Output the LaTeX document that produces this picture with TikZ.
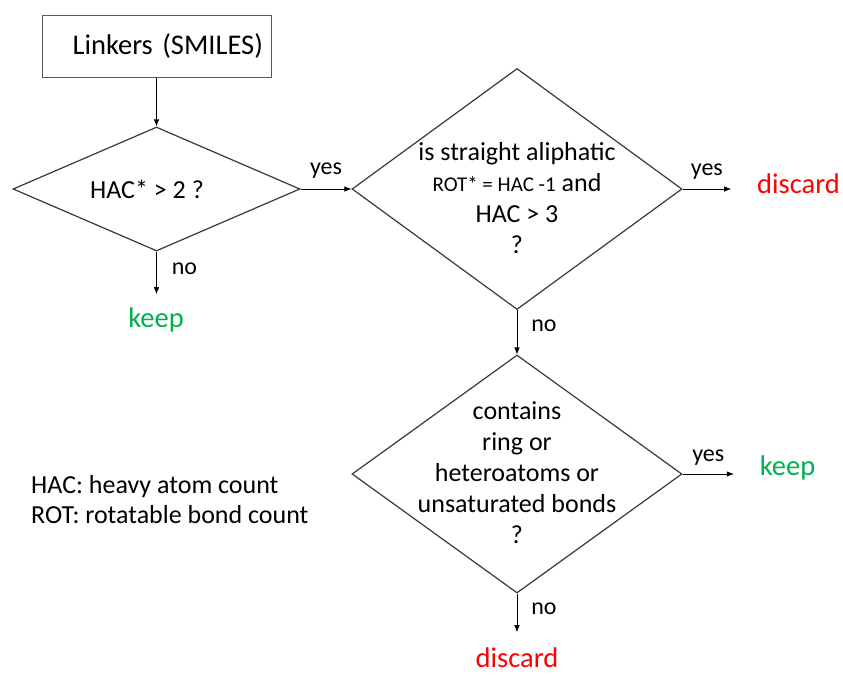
\documentclass[tikz,border=0pt]{standalone}
\usepackage{fontspec}
\setmainfont{Carlito}
\usepackage{xcolor}
\usepackage{tikz}
\usetikzlibrary{shapes.geometric, arrows.meta, positioning}

\definecolor{keepgreen}{RGB}{0,176,80}
\definecolor{discardred}{RGB}{255,0,0}

\tikzset{
    decision/.style={diamond, draw=black!78, line width=1.2pt, inner sep=0pt},
    startbox/.style={rectangle, draw=black!65, line width=1pt},
    ask/.style={align=center, inner sep=0pt, font=\fontsize{26}{31}\selectfont},
    lbl/.style={inner sep=2pt, font=\fontsize{24}{28}\selectfont},
    outcome/.style={inner sep=2pt, outer xsep=24pt, outer ysep=11pt, anchor=base, font=\fontsize{28.5}{32}\selectfont},
    flow/.style={-{Latex[length=7pt,width=5.5pt]}, line width=0.7pt}
}

\begin{document}
\begin{tikzpicture}[x=1pt, y=-1pt]
        \useasboundingbox (0,0) rectangle (843,675);

        \node[startbox, minimum width=229pt, minimum height=62pt, text width=213pt,
              inner xsep=8pt, align=right, font=\fontsize{28.5}{32}\selectfont] (linkers) at (156.5,46) {Linkers (SMILES)};

        \node[decision, minimum width=287pt, minimum height=124pt] (d1) at (156.5,189) {};
        \node[ask] (t1) at (147,189) {HAC* > 2 ?};

        \node[decision, minimum width=330pt, minimum height=241pt] (d2) at (517,189) {};
        \node[ask] (t2) at (517,198) {is straight aliphatic\\{\fontsize{21}{31}\selectfont ROT* = HAC -1} and\\HAC > 3\\?};

        \node[decision, minimum width=330pt, minimum height=238pt] (d3) at (517,474) {};
        \node[ask] (t3) at (517,473) {contains\\ring or\\heteroatoms or\\unsaturated bonds\\?};

        \node[outcome, text=keepgreen] (keep1) at (156,327) {keep};
        \node[outcome, text=discardred] (discard1) at (798.5,193) {discard};
        \node[outcome, text=keepgreen] (keep2) at (787.5,475) {keep};
        \node[outcome, text=discardred, outer ysep=0pt] (discard2) at (517,667) {discard};

        \node[ask, align=left, anchor=west, font=\fontsize{26}{30}\selectfont] (legend) at (31,500)
            {HAC: heavy atom count\\ROT: rotatable bond count};

        % flow
        \draw[flow] (linkers) -- (d1);
        \draw[flow] (d1.south) -- (d1.south |- keep1.north)
            node[lbl, pos=0.4, right, xshift=13pt] {no};
        \draw[flow] (d1.east) -- (d2.west)
            node[lbl, midway, above, yshift=8pt] {yes};
        \draw[flow] (d2.east) -- (d2.east -| discard1.west)
            node[lbl, midway, above, yshift=7pt] {yes};
        \draw[flow] (d2.south) -- (d3.north)
            node[lbl, pos=0.35, right, xshift=12pt] {no};
        \draw[flow] (d3.east) -- (d3.east -| keep2.west)
            node[lbl, midway, above, yshift=6pt] {yes};
        \draw[flow, shorten >=13pt] (d3.south) -- (discard2.north)
            node[lbl, pos=0.3, right, xshift=12pt] {no};
\end{tikzpicture}
\end{document}
